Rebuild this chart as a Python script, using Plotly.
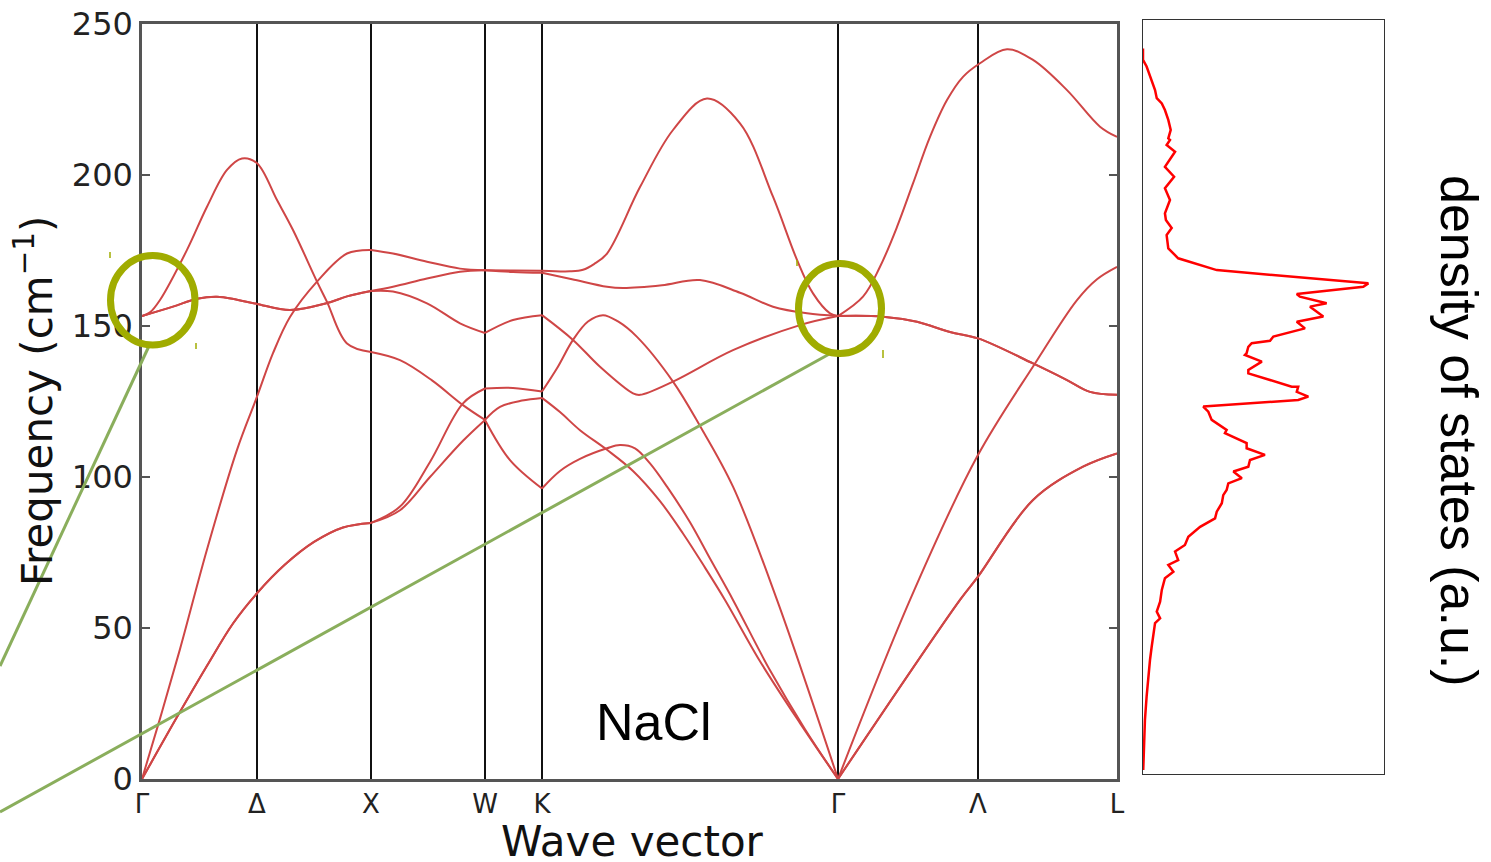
import plotly.graph_objects as go

W, H = 1491, 862

# ---------------- data ----------------
# high-symmetry points along the path (path length, arbitrary units)
kpos = [0, 115, 229, 343, 400, 696, 836, 975]
klabels = ["Γ", "Δ", "X", "W", "K", "Γ", "Λ", "L"]
# points where the branches may have a kink (segment ends)
kbreaks = [0, 229, 343, 400, 696, 975]

# phonon branches (path length, frequency cm^-1)
band1_k = [0, 35, 65, 91, 115, 143, 172, 201, 229, 258, 288, 321, 343, 371, 400,
           415, 431, 446, 461, 476, 495, 531, 558, 591, 635, 696, 818, 836, 891, 941, 975]
band1_f = [0, 20.5, 37.5, 51.5, 61.5, 71, 78.5, 83.3, 84.8, 90.2, 105, 124.4, 129.3, 129.5, 128.3,
           136, 145.4, 151.5, 153.6, 151.5, 146.4, 131.6, 116.9, 96.8, 59.3, 0, 59.3, 67, 92.4, 103.4, 107.8]

band2_k = [0, 35, 65, 91, 115, 143, 172, 201, 229, 258, 288, 321, 343, 358, 380, 400,
           418, 438, 465, 491, 518, 541, 563, 583, 618, 658, 696, 818, 836, 891, 941, 975]
band2_f = [0, 20.5, 37.5, 51.5, 61.5, 71, 78.5, 83.3, 84.8, 89, 100, 112, 118.9, 123.2, 125.3, 126.2,
           121.5, 115.5, 109, 102, 92, 81.3, 70, 59.3, 39, 18.5, 0, 59.3, 67, 92.4, 103.4, 107.8]

band3_k = [0, 18, 38, 65, 95, 115, 131, 148, 175, 205, 229, 251, 285, 318, 343, 371, 400,
           428, 441, 452, 465, 498, 531, 565, 598, 631, 655, 671, 688, 696,
           721, 738, 755, 771, 788, 805, 821, 838, 865, 891, 925, 958, 975]
band3_f = [0, 20, 43, 76, 109, 126.6, 141, 153, 164.7, 174, 175.2, 174, 171.3, 169, 168.5, 168.4, 168.3,
           168.1, 168.6, 170.5, 174, 196, 214.9, 225.3, 217.1, 192.8, 171.9, 160.8, 154.2, 153.3,
           159.7, 169.6, 182.8, 197.2, 212.6, 224.8, 232.5, 237, 241.6, 238.1, 228.1, 216, 212.6]

band4_k = [0, 8, 18, 45, 65, 85, 100, 115, 135, 151, 175, 185, 205, 229, 258, 290, 321, 343, 368, 400,
           418, 438, 465, 478, 493, 508, 525, 548, 568, 591, 628, 663, 696, 768, 835, 893, 935, 955, 975]
band4_f = [153.3, 154.5, 158.6, 175.2, 189.5, 201.7, 205.5, 203.9, 191.7, 181.8, 164.7, 158, 144.2, 141.4,
           138.7, 132, 123.8, 118.9, 105.6, 96.2,
           102, 106, 109.5, 110.6, 109.5, 104.5, 96.8, 85, 73, 59.3, 36, 16.5, 0, 59.3, 106.7, 137.6, 158.6, 165.5, 169.6]

band5_k = [0, 31, 55, 75, 95, 115, 148, 185, 205, 229, 251, 285, 318, 343, 371, 400,
           430, 465, 481, 520, 558, 598, 631, 665, 696, 741, 775, 808, 836, 891, 925, 948, 975]
band5_f = [153.3, 156.4, 159, 159.7, 158.7, 157.3, 155.3, 157.6, 159.8, 161.6, 163, 165.7, 168, 168.5, 167.9, 167.6,
           165.5, 163, 162.6, 163.5, 165.2, 161, 156.4, 154.2, 153.3, 153.1, 151.4, 148, 145.9, 137.6, 132.1, 128.2, 127.2]

band6_k = [0, 31, 55, 75, 95, 115, 148, 185, 205, 229, 251, 285, 318, 343, 371, 400,
           431, 458, 491, 498, 531, 591, 658, 696, 741, 775, 808, 836, 891, 925, 948, 975]
band6_f = [153.3, 156.4, 159, 159.7, 158.7, 157.3, 155.3, 157.6, 159.8, 161.6, 161.4, 157.5, 150.9, 147.7, 152, 153.6,
           145.4, 136.5, 127.7, 127.2, 131.6, 142, 150.3, 153.3, 153.1, 151.4, 148, 145.9, 137.6, 132.1, 128.2, 127.2]

bands = [(band1_k, band1_f), (band2_k, band2_f), (band3_k, band3_f),
         (band4_k, band4_f), (band5_k, band5_f), (band6_k, band6_f)]

# density of states (frequency cm^-1, density a.u.)
dos_freq = [241.9, 238.1, 235.9, 231.5, 228.1, 225.4, 223.7, 221.5, 218.2, 214.9, 212.1, 211.6, 209.9,
            207.7, 202.7, 199.4, 195.6, 191.7, 187.3, 185.1, 182.4, 180.1, 175.7, 172.4, 170.8, 168.5,
            164.1, 163.0, 160.6, 159.7, 157.5, 156.4, 153.1, 151.4, 149.2, 146.5, 145.1, 144.3, 143.1,
            141.0, 140.4, 138.2, 135.4, 134.3, 132.1, 129.9, 129.9, 128.2, 126.6, 125.5, 123.3, 121.6,
            118.9, 116.1, 115.6, 114.5, 111.2, 109.5, 107.3, 105.6, 103.4, 101.8, 99.6, 97.9, 95.7, 94.0,
            91.3, 88.5, 86.3, 83.5, 80.2, 77.5, 75.3, 72.5, 70.9, 68.6, 66.5, 62.6, 58.7, 55.4, 53.2,
            51.6, 48.2, 43.8, 39.4, 33.9, 27.3, 19.5, 10.7, 3.0]
dos_val = [0.0, 0.0, 0.015, 0.036, 0.050, 0.057, 0.078, 0.091, 0.105, 0.115, 0.105, 0.112, 0.098,
           0.133, 0.091, 0.129, 0.091, 0.112, 0.091, 0.095, 0.119, 0.098, 0.105, 0.146, 0.209, 0.306,
           0.935, 0.914, 0.638, 0.651, 0.762, 0.693, 0.748, 0.638, 0.672, 0.541, 0.527, 0.451, 0.437,
           0.430, 0.423, 0.493, 0.437, 0.437, 0.527, 0.617, 0.644, 0.638, 0.686, 0.644, 0.250, 0.271,
           0.285, 0.340, 0.347, 0.340, 0.430, 0.430, 0.506, 0.444, 0.437, 0.375, 0.410, 0.354, 0.347, 0.333,
           0.327, 0.306, 0.299, 0.237, 0.188, 0.174, 0.133, 0.146, 0.105, 0.126, 0.091, 0.078, 0.071, 0.057, 0.071,
           0.050, 0.043, 0.036, 0.029, 0.022, 0.015, 0.008, 0.004, 0.001]

yticks = [0, 50, 100, 150, 200, 250]

# ---------------- figure ----------------
def pxx(x):
    return x / W

def pxy(y):
    return 1 - y / H

fig = go.Figure()
BAND_COLOR = "#cf4646"
for k, f in bands:
    # draw each path segment separately so kinks at high-symmetry points stay sharp
    for a, b in zip(kbreaks[:-1], kbreaks[1:]):
        seg = [(kk, ff) for kk, ff in zip(k, f) if a <= kk <= b]
        fig.add_trace(go.Scatter(x=[s[0] for s in seg], y=[s[1] for s in seg], mode="lines",
                                 line=dict(color=BAND_COLOR, width=2, shape="spline", smoothing=1.0),
                                 hoverinfo="skip", showlegend=False, xaxis="x", yaxis="y"))

fig.add_trace(go.Scatter(x=dos_val, y=dos_freq, mode="lines", line=dict(color="#ff0000", width=2.5),
                         showlegend=False, xaxis="x2", yaxis="y2"))

tickfont_y = dict(family="DejaVu Sans", size=32, color="#222")
tickfont_x = dict(family="DejaVu Sans", size=26, color="#222")

fig.update_layout(
    width=W, height=H, margin=dict(l=0, r=0, t=0, b=0, pad=0), autosize=False,
    paper_bgcolor="white", plot_bgcolor="white", showlegend=False,
    xaxis=dict(domain=[pxx(142), pxx(1117)], range=[0, 975], tickvals=kpos, ticktext=klabels,
               showgrid=True, gridcolor="#111", gridwidth=2, zeroline=False,
               showline=True, mirror=True, linecolor="#555", linewidth=2.5,
               ticks="", tickfont=tickfont_x, automargin=False, anchor="y", ticklabelstandoff=0),
    yaxis=dict(domain=[pxy(779), pxy(24)], range=[0, 250], tickvals=yticks,
               showgrid=False, zeroline=False, showline=True, mirror="ticks",
               linecolor="#555", linewidth=2.5, ticks="inside", ticklen=8, tickwidth=2,
               tickcolor="#555", tickfont=tickfont_y, automargin=False, anchor="x"),
    xaxis2=dict(domain=[pxx(1143), pxx(1384)], range=[0, 1], anchor="y2",
                showgrid=False, zeroline=False, showline=True, mirror=True, linecolor="#333",
                linewidth=1, ticks="", showticklabels=False, automargin=False),
    yaxis2=dict(domain=[pxy(774), pxy(20)], range=[1.66, 251.3], anchor="x2",
                showgrid=False, zeroline=False, showline=True, mirror=True, linecolor="#333",
                linewidth=1, ticks="", showticklabels=False, automargin=False),
)

annotations = [
    dict(text="Frequency (cm<sup>−1</sup>)", x=pxx(35), y=pxy(401), xref="paper", yref="paper",
         textangle=-90, showarrow=False, font=dict(family="DejaVu Sans", size=42, color="#111"),
         xanchor="center", yanchor="middle"),
    dict(text="Wave vector", x=pxx(632), y=pxy(841), xref="paper", yref="paper",
         showarrow=False, font=dict(family="DejaVu Sans", size=42, color="#111"),
         xanchor="center", yanchor="middle"),
    dict(text="density of states (a.u.)", x=pxx(1459), y=pxy(431), xref="paper", yref="paper",
         textangle=90, showarrow=False, font=dict(family="Liberation Sans", size=52, color="black"),
         xanchor="center", yanchor="middle"),
    dict(text="NaCl", x=pxx(654), y=pxy(722), xref="paper", yref="paper",
         showarrow=False, font=dict(family="Liberation Sans", size=52, color="black"),
         xanchor="center", yanchor="middle"),
]
fig.update_layout(annotations=annotations)

OLIVE = "rgb(160,172,0)"
GREEN = "rgb(138,174,92)"
shapes = [
    dict(type="line", xref="paper", yref="paper", x0=pxx(149), y0=pxy(346), x1=pxx(0), y1=pxy(666),
         line=dict(color=GREEN, width=3)),
    dict(type="line", xref="paper", yref="paper", x0=pxx(833), y0=pxy(352), x1=pxx(0), y1=pxy(812),
         line=dict(color=GREEN, width=3)),
    dict(type="circle", xref="paper", yref="paper", x0=pxx(110.5), x1=pxx(195), y0=pxy(255.5), y1=pxy(345),
         line=dict(color=OLIVE, width=7)),
    dict(type="circle", xref="paper", yref="paper", x0=pxx(798.5), x1=pxx(881.5), y0=pxy(263.5), y1=pxy(353.5),
         line=dict(color=OLIVE, width=7)),
]
for (x, y0, y1) in [(110, 252, 258), (196, 343, 349), (883, 350, 358), (797, 260, 266)]:
    shapes.append(dict(type="line", xref="paper", yref="paper", x0=pxx(x), x1=pxx(x), y0=pxy(y0), y1=pxy(y1),
                       line=dict(color=OLIVE, width=1.5)))
fig.update_layout(shapes=shapes)

fig.write_html("out.html")
